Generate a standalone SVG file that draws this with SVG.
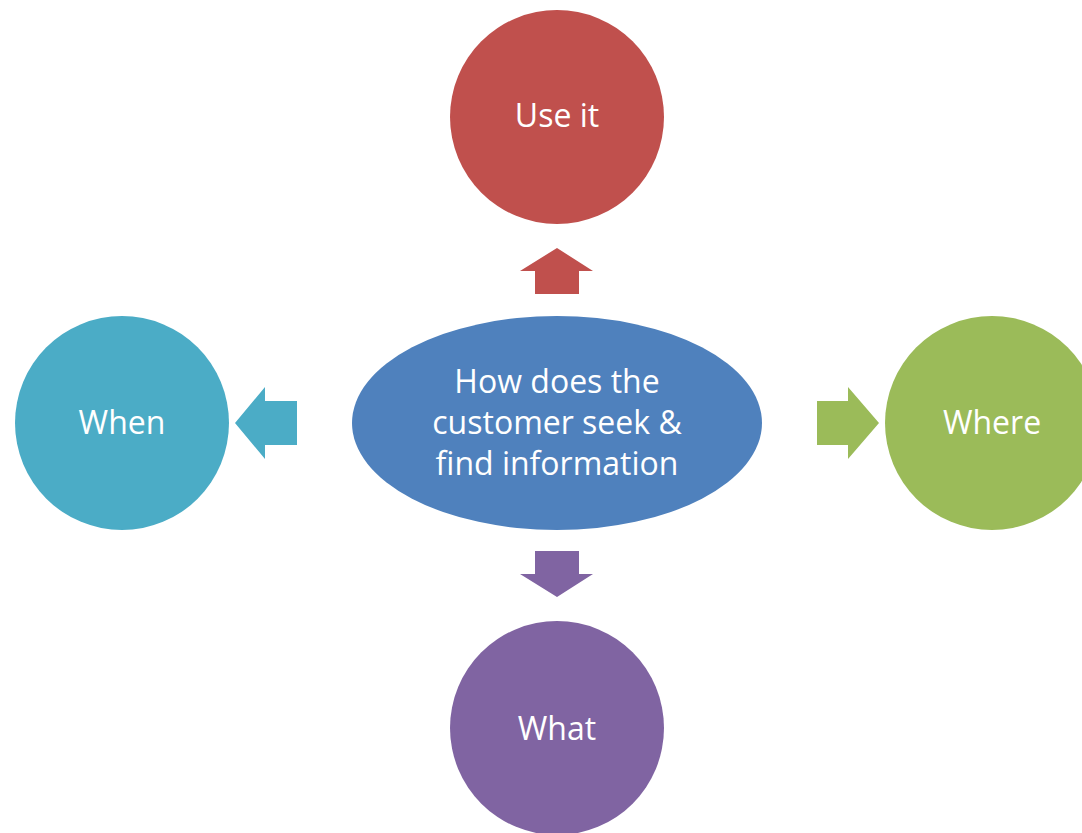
<svg xmlns="http://www.w3.org/2000/svg" width="1082" height="833" viewBox="0 0 1082 833">
  <style>
    .label { font-family: "Open Sans", "Noto Sans", sans-serif; font-size: 32px; fill: #ffffff; text-anchor: middle; }
  </style>
  <rect width="1082" height="833" fill="#ffffff"/>

  <!-- arrows pointing from the hub to each satellite -->
  <g id="connectors">
    <polygon fill="#C0504D" points="557,248 593,271 579,271 579,294 535,294 535,271 520,271"/>
    <polygon fill="#8064A2" points="557,597 593,574 579,574 579,551 535,551 535,574 520,574"/>
    <polygon fill="#4BACC6" points="235,423 265,387 265,401 297,401 297,445 265,445 265,459"/>
    <polygon fill="#9BBB59" points="879,423 848,387 848,401 817,401 817,445 848,445 848,459"/>
  </g>

  <g id="hub">
    <ellipse cx="557" cy="423" rx="205" ry="107" fill="#4F81BD"/>
    <text class="label" x="557" y="393">How does the</text>
    <text class="label" x="557" y="434">customer seek &amp;</text>
    <text class="label" x="557" y="475">find information</text>
  </g>

  <g id="use-it">
    <circle cx="557" cy="117" r="107" fill="#C0504D"/>
    <text class="label" x="557" y="127">Use it</text>
  </g>

  <g id="when">
    <circle cx="122" cy="423" r="107" fill="#4BACC6"/>
    <text class="label" x="122" y="434">When</text>
  </g>

  <g id="where">
    <circle cx="992" cy="423" r="107" fill="#9BBB59"/>
    <text class="label" x="992" y="434">Where</text>
  </g>

  <g id="what">
    <circle cx="557" cy="728" r="107" fill="#8064A2"/>
    <text class="label" x="557" y="740">What</text>
  </g>
</svg>
